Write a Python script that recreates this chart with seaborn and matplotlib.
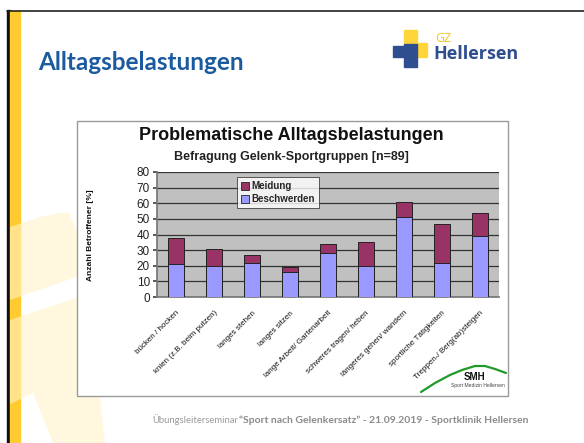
import pandas as pd
import matplotlib.pyplot as plt
import seaborn as sns
from matplotlib.patches import Rectangle, Polygon
from matplotlib.lines import Line2D
from matplotlib.transforms import ScaledTranslation

# Data (percent of respondents)
categories = ["bücken / hocken", "knien (z.B. beim putzen)", "langes stehen",
              "langes sitzen", "lange Arbeit/ Gartenarbeit", "schweres tragen/ heben",
              "längeres gehen/ wandern", "sportliche Tätigkeiten", "Treppen-/ Berg(ab)steigen"]
beschwerden = [21, 20, 22, 16, 28, 20, 51, 22, 39]
meidung = [17, 11, 5, 3, 6, 15, 10, 25, 15]
y_ticks = [0, 10, 20, 30, 40, 50, 60, 70, 80]

BLUE = "#9999ff"
MAROON = "#993366"
W, H = 584, 443

df = pd.DataFrame({"kategorie": categories, "Beschwerden": beschwerden, "Meidung": meidung})
df["gesamt"] = df["Beschwerden"] + df["Meidung"]

sns.set_theme(style="white")
plt.rcParams["font.family"] = ["Liberation Sans", "DejaVu Sans"]

fig = plt.figure(figsize=(W / 100, H / 100), dpi=100)
fig.patch.set_facecolor("white")

def fx(x):
    return x / W

def fy(y):
    return 1 - y / H

def fig_rect(x0, y0, x1, y1, **kw):
    # rectangle given in pixel coords (top-left origin)
    fig.add_artist(Rectangle((fx(x0), fy(y1)), fx(x1 - x0), (y1 - y0) / H,
                             transform=fig.transFigure, **kw))

# slide decoration: left border, yellow bar, top line
fig_rect(7, 10, 9.5, 443, color="#111111", zorder=0.2)
fig_rect(9.5, 11, 20, 443, color="#ffcb2f", zorder=0.2)
fig.add_artist(Line2D([fx(7), 1], [fy(10.5), fy(10.5)], color="#222222", lw=1.2,
                      transform=fig.transFigure))

# faint watermark shapes
wm = dict(closed=True, facecolor="#fff2c8", alpha=0.6, edgecolor="none",
          transform=fig.transFigure, zorder=0.5)
fig.add_artist(Polygon([(fx(10), fy(227)), (fx(40), fy(217)), (fx(60), fy(213)),
                        (fx(69), fy(213)), (fx(85), fy(250)), (fx(85), fy(274)),
                        (fx(10), fy(300))], **wm))
fig.add_artist(Polygon([(fx(10), fy(320)), (fx(85), fy(295)), (fx(85), fy(396)),
                        (fx(100), fy(396)), (fx(105), fy(443)), (fx(53), fy(443)),
                        (fx(33), fy(393)), (fx(10), fy(404))], **wm))

# slide title and logo
fig.text(fx(38), fy(62), "Alltagsbelastungen", fontsize=17.5, fontweight="bold",
         color="#1c5aa0", family=["Lato", "DejaVu Sans"], va="center", ha="left")
fig_rect(404, 30, 417, 44, color="#ffd53a")
fig_rect(417, 43, 427, 57, color="#ffd53a")
fig_rect(393, 46, 404, 57, color="#2e4e8f")
fig_rect(404, 44, 417, 67, color="#2e4e8f")
fig.text(fx(435), fy(38), "GZ", fontsize=9, color="#f2c318", family=["Open Sans", "DejaVu Sans"],
         va="center", ha="left")
fig.text(fx(433), fy(54), "Hellersen", fontsize=13, fontweight="bold", color="#2e4e8f",
         family=["Open Sans", "DejaVu Sans"], va="center", ha="left")

# chart frame (pasted Excel chart)
fig_rect(77, 121, 508, 396, facecolor="white", edgecolor="#9a9a9a", lw=1, zorder=1)

fig.text(fx(291), fy(135), "Problematische Alltagsbelastungen", fontsize=13,
         fontweight="bold", ha="center", va="center", color="#111111")
fig.text(fx(291), fy(157), "Befragung Gelenk-Sportgruppen [n=89]", fontsize=9,
         fontweight="bold", ha="center", va="center", color="#222222")
fig.text(fx(91), fy(235), "Anzahl Betroffener [%]", fontsize=6, fontweight="bold",
         rotation=90, ha="center", va="center", color="#111111")

ax = fig.add_axes([fx(157), fy(297), fx(342), 125 / H], zorder=2)
ax.set_facecolor("#c0c0c0")

sns.barplot(data=df, x="kategorie", y="gesamt", color=MAROON, width=0.4,
            edgecolor="#222222", linewidth=0.7, saturation=1, ax=ax, zorder=3)
sns.barplot(data=df, x="kategorie", y="Beschwerden", color=BLUE, width=0.4,
            edgecolor="#222222", linewidth=0.7, saturation=1, ax=ax, zorder=4)

ax.set_ylim(0, 80)
ax.set_xlim(-0.5, len(categories) - 0.5)
ax.set_yticks(y_ticks)
ax.set_yticklabels([str(v) for v in y_ticks], fontsize=8.5, color="#222222")
ax.yaxis.grid(True, color="#333333", lw=0.9)
ax.set_axisbelow(True)
ax.set_xlabel(None)
ax.set_ylabel(None)
ax.set_xticks(range(len(categories)))
ax.set_xticklabels(categories, rotation=45, ha="right", rotation_mode="anchor",
                   fontsize=5.8, color="#111111")
shift = ScaledTranslation(-14 / 100, 0, fig.dpi_scale_trans)
for lab in ax.get_xticklabels():
    lab.set_transform(lab.get_transform() + shift)
ax.set_xticks([i + 0.5 for i in range(-1, len(categories))], minor=True)
ax.tick_params(axis="x", which="major", length=0, pad=9)
ax.tick_params(axis="x", which="minor", length=3, color="#444444", direction="out")
ax.tick_params(axis="y", length=3, color="#444444", direction="out", pad=2, left=True)
for side in ["top", "right"]:
    ax.spines[side].set_visible(False)
ax.spines["left"].set_color("#777777")
ax.spines["bottom"].set_color("#777777")

handles = [Rectangle((0, 0), 1, 1, facecolor=MAROON, edgecolor="#222222", lw=0.6),
           Rectangle((0, 0), 1, 1, facecolor=BLUE, edgecolor="#222222", lw=0.6)]
leg = ax.legend(handles, ["Meidung", "Beschwerden"], loc="upper left",
                bbox_to_anchor=(0.22, 0.995), frameon=True, fancybox=False,
                prop={"size": 7, "weight": "bold"}, handlelength=0.8, handleheight=0.8,
                handletextpad=0.3, borderpad=0.4, labelspacing=0.3)
leg.get_frame().set_edgecolor("#333333")
leg.get_frame().set_linewidth(0.7)

# SMH logo in the chart corner
fig.add_artist(Line2D([fx(421), fx(435), fx(450), fx(462), fx(475), fx(485), fx(495), fx(506)],
                      [fy(392), fy(383), fy(375), fy(370), fy(366), fy(366), fy(369), fy(373)],
                      color="#1f9a2a", lw=1.6, transform=fig.transFigure, zorder=5))
fig.text(fx(474), fy(377), "SMH", fontsize=7, fontweight="bold", ha="center",
         va="center", color="#111111", zorder=5)
fig.text(fx(478), fy(385), "Sport Medizin Hellersen", fontsize=3.6, ha="center",
         va="center", color="#444444", zorder=5)

# footer
fig.text(fx(152), fy(420), "Übungsleiterseminar", fontsize=6.8, color="#9a9a9a",
         family=["Lato", "DejaVu Sans"], ha="left", va="center")
fig.text(fx(239), fy(420), "\u201cSport nach Gelenkersatz\u201d - 21.09.2019 - Sportklinik Hellersen",
         fontsize=7.5, fontweight="bold", color="#8a8a8a", family=["Lato", "DejaVu Sans"],
         ha="left", va="center")

fig.savefig("out.png", dpi=100)
